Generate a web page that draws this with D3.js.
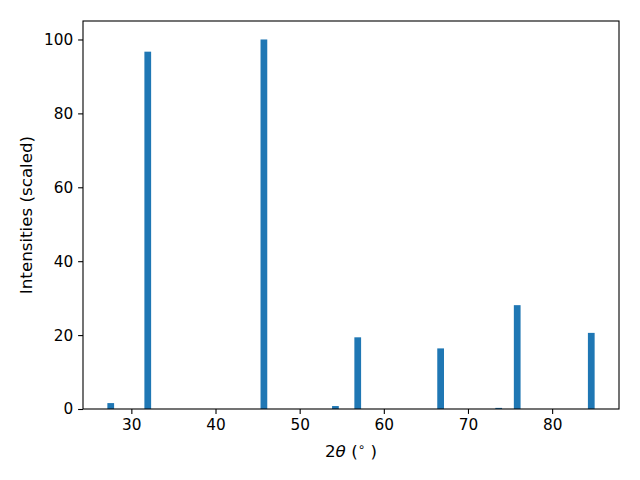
<!DOCTYPE html>
<html>
<head>
<meta charset="utf-8" />
<title>XRD pattern</title>
<style>
  body { margin: 0; background: #fff; }
  text { font-family: "DejaVu Sans", sans-serif; }
</style>
</head>
<body>
<svg width="640" height="480"></svg>
<script src="https://cdn.jsdelivr.net/npm/d3@7"></script>
<script>
// peak positions (2theta, degrees) and scaled intensities
var angles = [27.55, 31.95, 45.75, 54.25, 56.9, 66.75, 73.65, 75.85, 84.65];
var intensities = [1.6, 96.7, 100, 0.8, 19.4, 16.4, 0.3, 28.1, 20.6];
var xTicks = [30, 40, 50, 60, 70, 80];
var yTicks = [0, 20, 40, 60, 80, 100];
var barWidth = 0.8;

var data = angles.map(function (a, i) {
    return { angle: a, value: intensities[i] };
});

var margin = { left: 83, right: 21, top: 21, bottom: 71 };
var svg = d3.select('svg');
var w = 640 - margin.left - margin.right;
var h = 480 - margin.top - margin.bottom;

var lo = d3.min(angles) - barWidth / 2;
var hi = d3.max(angles) + barWidth / 2;
var pad = (hi - lo) * 0.05;

var x = d3.scaleLinear()
    .domain([lo - pad, hi + pad])
    .range([0, w]);

var y = d3.scaleLinear()
    .domain([0, 105])
    .range([h, 0]);

var g = svg.append('g')
    .attr('transform', 'translate(' + margin.left + ',' + margin.top + ')');

g.selectAll('rect')
    .data(data)
    .enter()
    .append('rect')
    .attr('x', function (d) { return x(d.angle - barWidth / 2); })
    .attr('width', function (d) { return x(d.angle + barWidth / 2) - x(d.angle - barWidth / 2); })
    .attr('y', function (d) { return y(d.value); })
    .attr('height', function (d) { return h - y(d.value); })
    .attr('fill', '#1f77b4');

var xAxis = g.append('g')
    .attr('transform', 'translate(0,' + h + ')')
    .call(d3.axisBottom(x).tickValues(xTicks).tickSize(4.9).tickPadding(4.8));

var yAxis = g.append('g')
    .call(d3.axisLeft(y).tickValues(yTicks).tickSize(4.9).tickPadding(4.8));

[xAxis, yAxis].forEach(function (ax) {
    ax.select('.domain').remove();
    ax.attr('font-size', null).attr('font-family', null);
    ax.selectAll('text')
        .style('font-size', '15.3px')
        .attr('fill', '#000');
    ax.selectAll('line').attr('stroke', '#000').attr('stroke-width', 1.1);
});

g.append('rect')
    .attr('width', w)
    .attr('height', h)
    .attr('fill', 'none')
    .attr('stroke', '#000')
    .attr('stroke-width', 1.1);

// x label: 2θ (°)
var xl = svg.append('text')
    .attr('x', margin.left + w / 2)
    .attr('y', 457)
    .attr('text-anchor', 'middle')
    .style('font-size', '16.7px')
    .attr('fill', '#000');
xl.append('tspan').text('2');
xl.append('tspan').attr('font-style', 'italic').text('θ');
xl.append('tspan').text(' (');
xl.append('tspan').style('font-size', '12px').attr('dy', '-6').text('∘');
xl.append('tspan').attr('dy', '6').text(' )');

svg.append('text')
    .attr('transform', 'translate(32,' + (margin.top + h / 2) + ') rotate(-90)')
    .attr('text-anchor', 'middle')
    .style('font-size', '16.7px')
    .attr('fill', '#000')
    .text('Intensities (scaled)');
</script>
</body>
</html>
